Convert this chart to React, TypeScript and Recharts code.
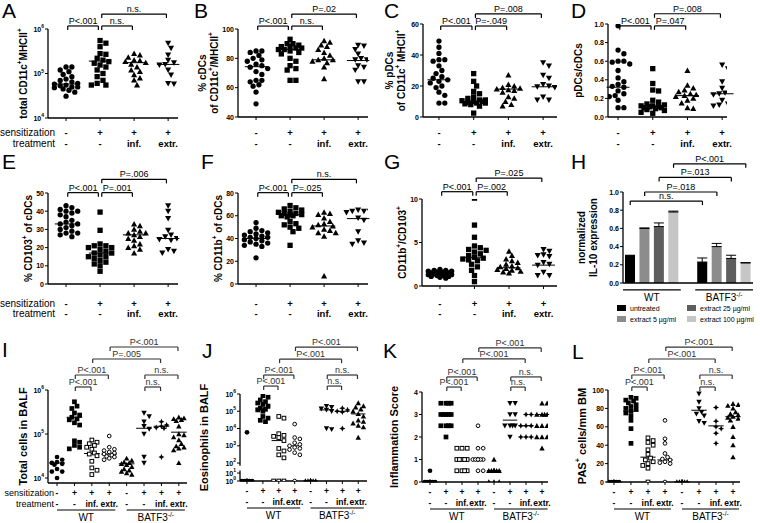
import React from "react";
import {
  Bar,
  BarChart,
  Cell,
  ErrorBar,
  ReferenceLine,
  Scatter,
  ScatterChart,
  XAxis,
  YAxis,
} from "recharts";

const FONT = "'Liberation Sans', Arial, Helvetica, sans-serif";

// x-axis labels
const sens4 = ["-", "+", "+", "+"];
const treat4 = ["-", "-", "inf.", "extr."];
const sens8 = ["-", "+", "+", "+", "-", "+", "+", "+"];
const treat8 = ["-", "-", "inf.", "extr.", "-", "-", "inf.", "extr."];
const strainNames = ["WT", "BATF3"];
const strainSup = ["", "-/-"];

// A: total CD11c+MHCII+
const aCtrl = [1.4e5, 1.4e5, 1.2e5, 1.1e5, 9.5e4, 8.5e4, 7.5e4, 7e4, 6.5e4, 6e4, 5.8e4, 5.5e4, 5.3e4, 5e4, 5e4, 4.8e4, 4.5e4, 4.2e4, 3.8e4, 3.1e4];
const aSens = [5.5e5, 4.8e5, 4e5, 2.8e5, 2.7e5, 2.2e5, 2e5, 1.85e5, 1.7e5, 1.55e5, 1.4e5, 1.2e5, 1e5, 8.5e4, 7e4, 6e4, 5.5e4, 5.5e4];
const aInf = [2.8e5, 2.6e5, 2.3e5, 2e5, 1.95e5, 1.85e5, 1.75e5, 1.6e5, 1.4e5, 1.2e5, 1.1e5, 9.3e4, 7.9e4, 7.1e4, 5.5e4];
const aExtr = [4.8e5, 3.7e5, 2.6e5, 2e5, 1.75e5, 1.6e5, 1.55e5, 1.2e5, 9.3e4, 6e4, 5.8e4];
const aMed = [5.8e4, 1.9e5, 1.75e5, 1.6e5];

// B: % cDCs
const bCtrl = [85, 85, 84, 82, 80, 79, 78, 76, 75, 74, 73, 71, 69, 65, 65, 64, 62, 61, 57, 49];
const bSens = [93, 90, 90, 89, 88, 88, 87, 87, 86, 86, 85, 84, 83, 80, 78, 75, 73, 72, 65, 65];
const bInf = [92, 91, 89, 88, 86, 84, 82, 80, 79, 79, 78, 77, 74, 66];
const bExtr = [89, 88.5, 86, 83, 80, 79, 79, 75, 74, 72, 64, 64];
const bMed = [74.3, 86, 79, 78.5];

// C: % pDCs
const cCtrl = [49, 45, 41, 37, 37, 36, 33, 30, 28, 26, 25, 24, 23, 22, 20, 19, 16, 14, 9, 9];
const cSens = [28, 23, 20, 16.5, 15, 13, 12, 11, 11, 10.5, 10, 10, 9.5, 9, 9, 8.5, 8, 7, 2.5];
const cInf = [27, 21, 20, 19, 18.5, 18, 17.5, 17, 16, 13, 12, 10, 8, 7];
const cExtr = [35, 33, 27, 25, 21, 20, 19.5, 19, 13, 11, 11];
const cMed = [24, 10, 18, 19.5];

// D: pDCs/cDCs
const dCtrl = [0.98, 0.72, 0.68, 0.6, 0.6, 0.59, 0.57, 0.5, 0.42, 0.38, 0.35, 0.33, 0.32, 0.28, 0.25, 0.23, 0.22, 0.18, 0.1, 0.1];
const dSens = [0.52, 0.36, 0.29, 0.28, 0.18, 0.16, 0.14, 0.13, 0.12, 0.12, 0.11, 0.11, 0.1, 0.1, 0.09, 0.08, 0.07, 0.05, 0.04];
const dInf = [0.5, 0.34, 0.31, 0.29, 0.27, 0.25, 0.24, 0.23, 0.22, 0.2, 0.18, 0.15, 0.1, 0.09];
const dExtr = [0.56, 0.52, 0.38, 0.31, 0.26, 0.25, 0.25, 0.24, 0.18, 0.14, 0.13, 0.12];
const dMed = [0.32, 0.12, 0.23, 0.25];

// E: % CD103+ of cDCs
const eCtrl = [43, 42, 41, 40, 40, 39, 38, 37, 35, 34, 33, 33, 32, 31, 30, 29, 28, 28, 27, 26];
const eSens = [39.5, 29.5, 22, 21, 21, 20, 20, 19, 18, 17, 17, 16, 15, 15, 14, 13, 12, 11, 10, 7];
const eInf = [33, 32, 30, 29, 28, 28, 27, 26, 25, 24, 22, 21, 20, 19, 17];
const eExtr = [43, 40, 36, 29.5, 27, 26, 25, 24.5, 24, 19, 18, 17];
const eMed = [33, 17, 27, 25];

// F: % CD11b+ of cDCs
const fCtrl = [54, 49, 47, 46, 45, 44, 43, 42, 41, 41, 40, 39, 38, 37, 36, 35, 34, 33, 23];
const fSens = [69, 67, 66, 65, 64, 63, 62, 62, 61, 61, 60, 60, 59, 55, 53, 52, 50, 49, 46, 34];
const fInf = [63, 62, 61, 58, 55, 53, 52, 51, 50, 48, 47, 45, 45, 42, 7];
const fExtr = [65, 64, 64, 64, 63, 58, 56, 46, 38, 36, 35];
const fMed = [40, 61, 51, 57.5];

// G: CD11b+/CD103+
const gCtrl = [1.9, 1.8, 1.8, 1.7, 1.7, 1.6, 1.6, 1.5, 1.5, 1.4, 1.4, 1.4, 1.3, 1.3, 1.2, 1.2, 1.1, 1.1, 1.0, 0.9];
const gSens = [10.1, 7.0, 5.6, 4.6, 4.4, 4.2, 4.1, 3.9, 3.7, 3.5, 3.3, 3.2, 3.1, 3.0, 2.9, 2.5, 2.2, 1.8, 1.2, 0.5];
const gInf = [4.0, 3.5, 3.1, 2.9, 2.7, 2.5, 2.3, 2.2, 2.1, 2.0, 1.9, 1.8, 1.7, 1.6, 1.5];
const gExtr = [4.2, 4.0, 3.6, 3.5, 3.4, 2.7, 2.5, 2.4, 1.6, 1.2, 1.2];
const gMed = [1.4, 3.3, 2.1, 2.4];

// H: normalized IL-10 expression
const hTreatments = ["untreated", "extract 5 µg/ml", "extract 25 µg/ml", "extract 100 µg/ml"];
const hColors = ["#000000", "#8c8c8c", "#5e5e5e", "#c6c6c6"];
const hWT = [0.3, 0.6, 0.62, 0.78];
const hWTerr = [0.005, 0.005, 0.04, 0.01];
const hKO = [0.23, 0.4, 0.27, 0.22];
const hKOerr = [0.045, 0.035, 0.035, 0.004];

// I: total cells in BALF
const iWtCtrl = [3e4, 2.6e4, 2.3e4, 2.2e4, 2.1e4, 2e4, 1.6e4, 1.4e4, 1.4e4, 1e4];
const iWtSens = [5.4e5, 4.3e5, 3.8e5, 3e5, 2.7e5, 2.4e5, 2.2e5, 2.1e5, 1.8e5, 1.6e5, 7e4, 6.5e4, 5.5e4, 5e4, 4.6e4];
const iWtInf = [7.3e4, 6.5e4, 6e4, 5.5e4, 5e4, 4.5e4, 3.7e4, 3.5e4, 3.2e4, 2.4e4, 1.7e4, 1.5e4, 1.2e4];
const iWtExtr = [9e4, 5e4, 4.5e4, 4.2e4, 3.9e4, 3.7e4, 3.5e4, 3.3e4, 3.1e4, 3e4, 2.8e4, 2.6e4];
const iKoCtrl = [2.8e4, 2.5e4, 2.3e4, 2.2e4, 2.1e4, 2e4, 1.8e4, 1.6e4, 1.5e4, 1.4e4, 1.3e4, 1.2e4];
const iKoSens = [3e5, 2.5e5, 1.9e5, 1.5e5, 1.3e5, 1e5, 3e4, 2.2e4];
const iKoInf = [1.9e5, 1.6e5, 1.5e5, 1.4e5, 1.35e5, 3e4];
const iKoExtr = [2.4e5, 2.3e5, 2.2e5, 2.1e5, 2e5, 1.5e5, 1e5, 9.5e4, 8.5e4, 7.3e4, 6e4, 5.3e4, 5e4, 4.7e4, 4.3e4, 2.2e4];
const iMed = [2.2e4, 2.4e5, 3.6e4, 3.5e4, 2.1e4, 1.35e5, 1.5e5, 1.1e5];

// J: eosinophils in BALF (0 = none detected, drawn at 10^0)
const jWtCtrl = [6e3, 0, 0, 0, 0, 0, 0, 0, 0, 0, 0];
const jWtSens = [8e5, 6.5e5, 4.5e5, 3.6e5, 3e5, 2.5e5, 2e5, 1.5e5, 1.3e5, 1.2e5, 1e5, 5e4, 4e4, 3e4, 2.5e4];
const jWtInf = [5e4, 4e4, 5e3, 4e3, 3.5e3, 3e3, 2e3, 700, 500, 300, 200, 0, 0, 0];
const jWtExtr = [1.8e4, 3e3, 2.5e3, 1.5e3, 1.2e3, 1e3, 800, 700, 600, 400, 300, 0];
const jKoCtrl = [0, 0, 0, 0, 0, 0, 0, 0, 0];
const jKoSens = [2e5, 1.7e5, 1.4e5, 1.2e5, 1e5, 1e4, 9e3];
const jKoInf = [1.5e5, 1.2e5, 1e5, 9e4, 1e4];
const jKoExtr = [3e5, 2e5, 1.7e5, 1.3e5, 1e5, 7e4, 5e4, 3e4, 2.5e4, 2e4, 1.5e4, 1.2e4, 3e3];
const jMed = [0, 1.5e5, 2e3, 1e3, 0, 1.2e5, 1e5, 7e4];
const jExps = [0, 1, 2, 3, 4, 5, 6];

// K: inflammation score
const kWtCtrl = [0.5, 0, 0, 0, 0, 0, 0, 0, 0, 0];
const kWtSens = [3.5, 3.5, 3.5, 3.5, 3, 3, 3, 3, 3, 2.5, 2.5, 2.5, 2.5, 2];
const kWtInf = [1.5, 1.5, 1.5, 1, 1, 1, 1, 1, 0.5, 0.5, 0.5, 0.5];
const kWtExtr = [2.5, 1.5, 1.5, 1, 1, 1, 1, 1, 1, 0.5, 0.5];
const kKoCtrl = [1, 0.5, 0.5, 0.5, 0.5, 0.5, 0.5, 0.5, 0.5, 0, 0, 0];
const kKoSens = [3.5, 3.5, 3, 3, 2.5, 2.5, 2.5, 2.5, 2];
const kKoInf = [3, 3, 2.5, 2.5, 2.5, 2, 2, 2];
const kKoExtr = [3.5, 3.5, 3, 3, 3, 3, 2.5, 2.5, 2.5, 2, 2, 2, 1.5];
const kMed = [0, 3, 1, 1, 0.5, 2.75, 2.5, 3];

// L: PAS+ cells/mm BM
const lWtCtrl = [0, 0, 0, 0, 0, 0, 0, 0, 0, 0];
const lWtSens = [92, 91, 89, 88, 86, 84, 82, 80, 79, 77, 75, 72, 67, 58, 42];
const lWtInf = [48, 45, 43, 40, 35, 30, 26, 24, 22, 20, 18, 15, 0];
const lWtExtr = [67, 47, 42, 31, 27, 25, 24, 22, 21, 20, 0];
const lKoCtrl = [0, 0, 0, 0, 0, 0, 0, 0, 0, 0];
const lKoSens = [96, 87, 80, 76, 74, 72, 66, 64];
const lKoInf = [81, 66, 60, 58, 53, 42];
const lKoExtr = [85, 84, 83, 80, 76, 74, 73, 71, 70, 69, 67, 60, 49, 40, 27];
const lMed = [0, 77, 27, 24, 0, 78, 61, 71];

type Kind = "circle" | "square" | "tri" | "tridown" | "ocircle" | "osquare" | "star";
const kinds4: Kind[] = ["circle", "square", "tri", "tridown"];
const kinds8: Kind[] = ["circle", "square", "osquare", "ocircle", "tri", "tridown", "star", "tri"];

// broken log axis of panel J
const jT = (v: number) => (v < 1 ? 0 : v <= 10 ? Math.log10(v) * 0.46 : Math.log10(v) - 0.96);

function Marker({ cx, cy, kind, s }: { cx: number; cy: number; kind: Kind; s: number }) {
  const h = s / 2;
  if (kind === "circle") return <circle cx={cx} cy={cy} r={h} fill="#000" />;
  if (kind === "ocircle") return <circle cx={cx} cy={cy} r={h - 0.5} fill="#fff" stroke="#000" strokeWidth={1} />;
  if (kind === "square") return <rect x={cx - h} y={cy - h} width={s} height={s} fill="#000" />;
  if (kind === "osquare")
    return <rect x={cx - h + 0.5} y={cy - h + 0.5} width={s - 1} height={s - 1} fill="#fff" stroke="#000" strokeWidth={1} />;
  if (kind === "tri") {
    const t = h * 1.15;
    return <polygon points={`${cx},${cy - t} ${cx + t},${cy + t * 0.8} ${cx - t},${cy + t * 0.8}`} fill="#000" />;
  }
  if (kind === "tridown") {
    const t = h * 1.15;
    return <polygon points={`${cx},${cy + t} ${cx + t},${cy - t * 0.8} ${cx - t},${cy - t * 0.8}`} fill="#000" />;
  }
  const a = h * 1.3;
  const b = h * 0.4;
  return (
    <polygon
      points={`${cx},${cy - a} ${cx + b},${cy - b} ${cx + a},${cy} ${cx + b},${cy + b} ${cx},${cy + a} ${cx - b},${cy + b} ${cx - a},${cy} ${cx - b},${cy - b}`}
      fill="#000"
    />
  );
}

// simple beeswarm: spread points sideways so they don't overlap
function swarm(values: number[], g: number, f: (v: number) => number, pxPer: number, unitPx: number, s: number, maxHalf: number) {
  const placed: { dx: number; py: number; v: number }[] = [];
  const step = s * 0.55;
  const sorted = [...values].sort((a, b) => b - a);
  for (const v of sorted) {
    const py = f(v) * pxPer;
    let best = 0;
    let bestD = -1;
    for (let k = 0; k < 30; k++) {
      const m = k === 0 ? 0 : (k % 2 ? 1 : -1) * Math.ceil(k / 2);
      const dx = m * step;
      if (Math.abs(dx) > maxHalf) continue;
      const d = placed.reduce((mn, q) => Math.min(mn, Math.hypot(q.dx - dx, q.py - py)), Infinity);
      if (d >= s * 0.95) {
        best = dx;
        break;
      }
      if (d > bestD) {
        bestD = d;
        best = dx;
      }
    }
    placed.push({ dx: best, py, v });
  }
  return placed.map((q) => ({ x: g + q.dx / unitPx, y: q.v }));
}

type Group = { values: number[]; median: number; kind: Kind };
type Bracket = { from: number; to: number; y: number; text: string };
type Panel = {
  box: number[];
  plot: number[];
  xDomain: number[];
  yScale: "linear" | "log";
  yDomain: number[];
  yTicks: number[];
  yLabel: (v: number) => string[];
  title: string[];
  titleDx: number[];
  titleFs: number;
  groups: Group[];
  brackets: Bracket[];
  sens: string[];
  treat: string[];
  labelDy: number[];
  rowNames?: boolean;
  rowGap?: number;
  rowFs?: number;
  strains?: boolean;
  yBreak?: boolean;
  sym: number;
  spread: number;
  medHalf: number;
  tickFs: number;
  pFs: number;
  ink: string;
};

const grp = (vals: number[][], meds: number[], kinds: Kind[]): Group[] =>
  vals.map((values, i) => ({ values, median: meds[i], kind: kinds[i] }));

const pow10 = (v: number) => ["10", String(Math.round(Math.log10(v)))];
const plain = (v: number) => [String(v)];
const dec1 = (v: number) => [v.toFixed(1)];
const jLabel = (v: number) => ["10", String(jExps[jExps.map((e) => jT(Math.pow(10, e))).findIndex((t) => Math.abs(t - v) < 1e-6)])];

const row1 = { sens: sens4, treat: treat4, sym: 5.3, spread: 12, medHalf: 0.33, tickFs: 9.5, pFs: 9, ink: "#000", titleFs: 10, rowFs: 10 };
const row3 = { sens: sens8, treat: treat8, sym: 4.7, spread: 6.5, medHalf: 0.45, tickFs: 8.5, pFs: 9, ink: "#333", titleFs: 11, labelDy: [10, 20.5], strains: true, rowFs: 9 };

const panels: Panel[] = [
  {
    ...row1, box: [0, 0, 190, 150], plot: [48, 29, 178, 118], xDomain: [0.47, 4.29],
    yScale: "log", yDomain: [1e4, 1e6], yTicks: [1e4, 1e5, 1e6], yLabel: pow10,
    title: ["total CD11c^{+}MHCII^{+}"], titleDx: [-25],
    groups: grp([aCtrl, aSens, aInf, aExtr], aMed, kinds4),
    brackets: [
      { from: 1, to: 2, y: 1.17e6, text: "P<.001" },
      { from: 2, to: 3, y: 1.17e6, text: "n.s." },
      { from: 2, to: 4, y: 2.17e6, text: "n.s." },
    ],
    labelDy: [14, 25], rowNames: true, rowGap: 11,
  },
  {
    ...row1, box: [190, 0, 190, 150], plot: [238, 29, 368, 117], xDomain: [0.47, 4.29],
    yScale: "linear", yDomain: [40, 100], yTicks: [40, 60, 80, 100], yLabel: plain,
    title: ["% cDCs", "of CD11c^{+}/MHCII^{+}"], titleDx: [-36, -24],
    groups: grp([bCtrl, bSens, bInf, bExtr], bMed, kinds4),
    brackets: [
      { from: 1, to: 2, y: 102, text: "P<.001" },
      { from: 2, to: 3, y: 102, text: "n.s." },
      { from: 2, to: 4, y: 110.2, text: "P=.02" },
    ],
    labelDy: [15, 26],
  },
  {
    ...row1, box: [380, 0, 190, 150], plot: [423, 24, 557, 117], xDomain: [0.54, 4.4],
    yScale: "linear", yDomain: [0, 60], yTicks: [0, 20, 40, 60], yLabel: plain,
    title: ["% pDCs", "of CD11c^{+} MHCII^{+}"], titleDx: [-34, -22],
    groups: grp([cCtrl, cSens, cInf, cExtr], cMed, kinds4),
    brackets: [
      { from: 1, to: 2, y: 58.7, text: "P<.001" },
      { from: 2, to: 3, y: 58.7, text: "P=-.049" },
      { from: 2, to: 4, y: 66.5, text: "P=.008" },
    ],
    labelDy: [15, 26],
  },
  {
    ...row1, box: [570, 0, 190, 150], plot: [608, 24, 727, 117], xDomain: [0.71, 4.14],
    yScale: "linear", yDomain: [0, 1], yTicks: [0, 0.2, 0.4, 0.6, 0.8, 1], yLabel: dec1,
    title: ["pDCs/cDCs"], titleDx: [-30],
    groups: grp([dCtrl, dSens, dInf, dExtr], dMed, kinds4),
    brackets: [
      { from: 1, to: 2, y: 0.98, text: "P<.001" },
      { from: 2, to: 3, y: 0.98, text: "P=.047" },
      { from: 2, to: 4, y: 1.11, text: "P=.008" },
    ],
    labelDy: [15, 26],
  },
  {
    ...row1, box: [0, 150, 190, 175], plot: [48, 193, 178, 284], xDomain: [0.47, 4.29],
    yScale: "linear", yDomain: [0, 50], yTicks: [0, 10, 20, 30, 40, 50], yLabel: plain,
    title: ["% CD103^{+} of cDCs"], titleDx: [-20],
    groups: grp([eCtrl, eSens, eInf, eExtr], eMed, kinds4),
    brackets: [
      { from: 1, to: 2, y: 50.2, text: "P<.001" },
      { from: 2, to: 3, y: 50.2, text: "P=.001" },
      { from: 2, to: 4, y: 57.5, text: "P=.006" },
    ],
    labelDy: [19, 29], rowNames: true, rowGap: 11,
  },
  {
    ...row1, box: [190, 150, 190, 175], plot: [238, 193, 368, 284], xDomain: [0.47, 4.29],
    yScale: "linear", yDomain: [0, 80], yTicks: [0, 20, 40, 60, 80], yLabel: plain,
    title: ["% CD11b^{+} of cDCs"], titleDx: [-20],
    groups: grp([fCtrl, fSens, fInf, fExtr], fMed, kinds4),
    brackets: [
      { from: 1, to: 2, y: 80.3, text: "P<.001" },
      { from: 2, to: 3, y: 80.3, text: "P=.025" },
      { from: 2, to: 4, y: 92, text: "n.s." },
    ],
    labelDy: [19, 29],
  },
  {
    ...row1, box: [380, 150, 190, 175], plot: [422, 199, 557, 286], xDomain: [0.48, 4.39],
    yScale: "linear", yDomain: [0, 10], yTicks: [0, 5, 10], yLabel: plain,
    title: ["CD11b^{+}/CD103^{+}"], titleDx: [-20],
    groups: grp([gCtrl, gSens, gInf, gExtr], gMed, kinds4),
    brackets: [
      { from: 1, to: 2, y: 10.84, text: "P<.001" },
      { from: 2, to: 3, y: 10.84, text: "P=.002" },
      { from: 2, to: 4, y: 12.4, text: "P=.025" },
    ],
    labelDy: [17, 27],
  },
  {
    ...row3, box: [0, 330, 190, 193], plot: [48, 390, 187, 483], xDomain: [0.48, 8.47],
    yScale: "log", yDomain: [7.7e3, 1e6], yTicks: [1e4, 1e5, 1e6], yLabel: pow10,
    title: ["Total cells in BALF"], titleDx: [-25],
    groups: grp([iWtCtrl, iWtSens, iWtInf, iWtExtr, iKoCtrl, iKoSens, iKoInf, iKoExtr], iMed, kinds8),
    brackets: [
      { from: 2, to: 3, y: 1.17e6, text: "P<.001" },
      { from: 2, to: 4, y: 2.19e6, text: "P<.001" },
      { from: 3, to: 7, y: 5.06e6, text: "P=.005" },
      { from: 4, to: 8, y: 9.5e6, text: "P<.001" },
      { from: 6, to: 7, y: 1.17e6, text: "n.s." },
      { from: 6, to: 8, y: 2.19e6, text: "n.s." },
    ],
    rowNames: true, rowGap: 3,
  },
  {
    ...row3, box: [190, 330, 190, 193], plot: [240, 394, 367, 481], xDomain: [0.56, 8.55],
    yScale: "linear", yDomain: [0, jT(1e6)], yTicks: jExps.map((e) => jT(Math.pow(10, e))), yLabel: jLabel,
    title: ["Eosinophils in  BALF"], titleDx: [-36],
    groups: grp(
      [jWtCtrl, jWtSens, jWtInf, jWtExtr, jKoCtrl, jKoSens, jKoInf, jKoExtr].map((a) => a.map(jT)),
      jMed.map(jT),
      kinds8
    ),
    brackets: [
      { from: 2, to: 3, y: 5.5, text: "P<.001" },
      { from: 2, to: 4, y: 6.14, text: "P<.001" },
      { from: 3, to: 7, y: 7.06, text: "P<.001" },
      { from: 4, to: 8, y: 7.76, text: "P<.001" },
      { from: 6, to: 7, y: 5.5, text: "n.s." },
      { from: 6, to: 8, y: 6.14, text: "n.s." },
    ],
    yBreak: true,
  },
  {
    ...row3, box: [380, 330, 190, 193], plot: [422, 392, 548, 482], xDomain: [0.5, 8.375],
    yScale: "linear", yDomain: [0, 4], yTicks: [0, 1, 2, 3, 4], yLabel: plain,
    title: ["Inflammation Score"], titleDx: [-28],
    groups: grp([kWtCtrl, kWtSens, kWtInf, kWtExtr, kKoCtrl, kKoSens, kKoInf, kKoExtr], kMed, kinds8),
    brackets: [
      { from: 2, to: 3, y: 4.22, text: "P<.001" },
      { from: 2, to: 4, y: 4.67, text: "P<.001" },
      { from: 3, to: 7, y: 5.47, text: "P<.001" },
      { from: 4, to: 8, y: 5.96, text: "P<.001" },
      { from: 6, to: 7, y: 4.22, text: "n.s." },
      { from: 6, to: 8, y: 4.67, text: "n.s." },
    ],
  },
  {
    ...row3, box: [570, 330, 190, 193], plot: [608, 390, 740, 482], xDomain: [0.65, 8.41],
    yScale: "linear", yDomain: [0, 100], yTicks: [0, 20, 40, 60, 80, 100], yLabel: plain,
    title: ["PAS^{+} cells/mm BM"], titleDx: [-26],
    groups: grp([lWtCtrl, lWtSens, lWtInf, lWtExtr, lKoCtrl, lKoSens, lKoInf, lKoExtr], lMed, kinds8),
    brackets: [
      { from: 2, to: 3, y: 103.3, text: "P<.001" },
      { from: 2, to: 4, y: 116.3, text: "P<.001" },
      { from: 3, to: 7, y: 133.7, text: "P<.001" },
      { from: 4, to: 8, y: 146.7, text: "P<.001" },
      { from: 6, to: 7, y: 103.3, text: "n.s." },
      { from: 6, to: 8, y: 116.3, text: "n.s." },
    ],
  },
];

const letters: [string, number, number][] = [
  ["A", 2, 0], ["B", 194, 0], ["C", 384, 0], ["D", 571, 0],
  ["E", 2, 151], ["F", 201, 151], ["G", 384, 151], ["H", 571, 151],
  ["I", 2, 339], ["J", 202, 340], ["K", 383, 340], ["L", 572, 341],
];

function Rich({ s, fs }: { s: string; fs: number }) {
  const parts = s.split(/\^\{([^}]*)\}/);
  return (
    <>
      {parts.map((t, i) =>
        i % 2 ? (
          <tspan key={i} fontSize={fs * 0.65} dy={-fs * 0.4}>{t}</tspan>
        ) : (
          <tspan key={i} fontSize={fs} dy={i > 0 ? fs * 0.4 : 0}>{t}</tspan>
        )
      )}
    </>
  );
}

function YTitle({ p }: { p: Panel }) {
  const x0 = p.plot[0] - p.box[0];
  const cy = (p.plot[1] + p.plot[3]) / 2 - p.box[1];
  return (
    <g>
      {p.title.map((t, i) => (
        <text
          key={i}
          transform={`translate(${x0 + p.titleDx[i]},${cy}) rotate(-90)`}
          textAnchor="middle"
          dominantBaseline="central"
          fontWeight="bold"
          fontFamily={FONT}
          fill="#000"
        >
          <Rich s={t} fs={p.titleFs} />
        </text>
      ))}
    </g>
  );
}

function YTick(props: any) {
  const { x, y, payload, p } = props;
  const [base, sup] = p.yLabel(payload.value);
  return (
    <text x={x} y={y} textAnchor="end" dominantBaseline="central" fontSize={7} fontWeight="bold" fontFamily={FONT} fill="#000">
      {base}
      {sup !== undefined && (
        <tspan fontSize={5} dy={-3}>{sup}</tspan>
      )}
    </text>
  );
}

function CatTick(props: any) {
  const { x, y, payload, p } = props;
  const i = Math.round(payload.value) - 1;
  const ay = y - 3;
  const t = { textAnchor: "middle" as const, dominantBaseline: "central" as const, fontFamily: FONT, fill: "#000" };
  return (
    <g>
      <text x={x} y={ay + p.labelDy[0]} {...t} fontSize={p.tickFs} fontWeight="bold">{p.sens[i]}</text>
      <text x={x} y={ay + p.labelDy[1]} {...t} fontSize={p.tickFs} fontWeight="bold">{p.treat[i]}</text>
      {i === 0 && p.rowNames && (
        <>
          <text x={x - p.rowGap} y={ay + p.labelDy[0]} {...t} textAnchor="end" fontSize={p.rowFs}>sensitization</text>
          <text x={x - p.rowGap} y={ay + p.labelDy[1]} {...t} textAnchor="end" fontSize={p.rowFs}>treatment</text>
        </>
      )}
    </g>
  );
}

const strainLabel = (name: string, sup: string) => (lp: any) => {
  const vb = lp.viewBox || { x: 0, y: 0, width: 0, height: 0 };
  return (
    <text x={vb.x + vb.width / 2} y={vb.y + vb.height + 11} textAnchor="middle" fontSize={10} fontFamily={FONT} fill="#000">
      {name}
      {sup && (
        <tspan fontSize={6.5} dy={-4}>{sup}</tspan>
      )}
    </text>
  );
};

function DotPanel({ p }: { p: Panel }) {
  const [bl, bt, bw, bh] = p.box;
  const [ax, pt, pr, pb] = p.plot;
  const yW = 22;
  const xH = 25;
  const margin = { left: ax - bl - yW, top: pt - bt, right: bl + bw - pr, bottom: bt + bh - pb - xH };
  const isLog = p.yScale === "log";
  const f = isLog ? Math.log10 : (v: number) => v;
  const pxPer = (pb - pt) / (f(p.yDomain[1]) - f(p.yDomain[0]));
  const unitPx = (pr - ax) / (p.xDomain[1] - p.xDomain[0]);
  const shift = (v: number, dpx: number) => (isLog ? v * Math.pow(10, -dpx / pxPer) : v - dpx / pxPer);
  const ticks = p.groups.map((_, i) => i + 1);
  const refs: React.ReactNode[] = [];

  p.groups.forEach((g, i) => {
    refs.push(
      <ReferenceLine
        key={`m${i}`}
        segment={[{ x: i + 1 - p.medHalf, y: g.median }, { x: i + 1 + p.medHalf, y: g.median }]}
        stroke="#000"
        strokeWidth={1}
        ifOverflow="visible"
      />
    );
  });
  p.brackets.forEach((b, i) => {
    const x1 = b.from + 0.05;
    const x2 = b.to - 0.05;
    const lo = shift(b.y, 4);
    const st = { stroke: p.ink, strokeWidth: 1.2, ifOverflow: "visible" as const };
    refs.push(
      <ReferenceLine
        key={`bh${i}`}
        segment={[{ x: x1, y: b.y }, { x: x2, y: b.y }]}
        {...st}
        label={{ value: b.text, position: "top", offset: 2, fontSize: p.pFs, fill: p.ink, fontFamily: FONT }}
      />
    );
    refs.push(<ReferenceLine key={`bl${i}`} segment={[{ x: x1, y: b.y }, { x: x1, y: lo }]} {...st} />);
    refs.push(<ReferenceLine key={`br${i}`} segment={[{ x: x2, y: b.y }, { x: x2, y: lo }]} {...st} />);
  });
  if (p.strains) {
    const uy = shift(p.yDomain[0], 27);
    [[1, 4.35], [5, 8.35]].forEach(([a, b], i) => {
      refs.push(
        <ReferenceLine
          key={`s${i}`}
          segment={[{ x: a, y: uy }, { x: b, y: uy }]}
          stroke="#000"
          strokeWidth={1.2}
          ifOverflow="visible"
          label={{ position: "bottom", content: strainLabel(strainNames[i], strainSup[i]) }}
        />
      );
    });
  }
  if (p.yBreak) {
    const x0 = p.xDomain[0];
    refs.push(
      <ReferenceLine key="ax1" segment={[{ x: x0, y: 0 }, { x: x0, y: jT(10) + 0.15 }]} stroke="#000" strokeWidth={1.3} ifOverflow="visible" />
    );
    refs.push(
      <ReferenceLine key="ax2" segment={[{ x: x0, y: jT(100) - 0.15 }, { x: x0, y: p.yDomain[1] }]} stroke="#000" strokeWidth={1.3} ifOverflow="visible" />
    );
  }

  return (
    <div style={{ position: "absolute", left: bl, top: bt }}>
      <ScatterChart width={bw} height={bh} margin={margin}>
        <XAxis
          type="number"
          dataKey="x"
          domain={p.xDomain}
          ticks={ticks}
          allowDataOverflow
          interval={0}
          height={xH}
          tickSize={3}
          tickMargin={0}
          tickLine={{ stroke: "#000" }}
          axisLine={{ stroke: "#000", strokeWidth: 1.3 }}
          tick={(tp: any) => <CatTick {...tp} p={p} />}
        />
        <YAxis
          type="number"
          dataKey="y"
          scale={isLog ? "log" : "linear"}
          domain={p.yDomain}
          ticks={p.yTicks}
          allowDataOverflow
          interval={0}
          width={yW}
          tickSize={3}
          tickMargin={1}
          tickLine={{ stroke: "#000" }}
          axisLine={p.yBreak ? false : { stroke: "#000", strokeWidth: 1.3 }}
          tick={(tp: any) => <YTick {...tp} p={p} />}
          label={() => <YTitle p={p} />}
        />
        {p.groups.map((g, i) => (
          <Scatter
            key={i}
            data={swarm(g.values, i + 1, f, pxPer, unitPx, p.sym, p.spread)}
            isAnimationActive={false}
            shape={(sp: any) => <Marker cx={sp.cx} cy={sp.cy} kind={g.kind} s={p.sym} />}
          />
        ))}
        {refs}
      </ScatterChart>
    </div>
  );
}

const hBrackets = [
  { from: "wt0", to: "ko0", y: 0.9, text: "n.s." },
  { from: "wt1", to: "ko1", y: 1.0, text: "P=.018" },
  { from: "wt2", to: "ko2", y: 1.16, text: "P=.013" },
  { from: "wt3", to: "ko3", y: 1.31, text: "P<.001" },
];

function HPanel() {
  const rows = [
    ...hTreatments.map((_, i) => ({ slot: `wt${i}`, v: hWT[i], err: [0, hWTerr[i]], fill: hColors[i] })),
    { slot: "gap", v: 0, err: undefined as any, fill: "none" },
    ...hTreatments.map((_, i) => ({ slot: `ko${i}`, v: hKO[i], err: [0, hKOerr[i]], fill: hColors[i] })),
  ];
  const hp: any = {
    box: [570, 150, 190, 180],
    plot: [623, 192, 753, 283],
    title: ["normalized", "IL-10 expression"],
    titleDx: [-42, -30],
    titleFs: 10,
    yLabel: dec1,
  };
  const st = { stroke: "#000", strokeWidth: 1.2, ifOverflow: "visible" as const };
  const drop = 4 / 91;
  return (
    <div style={{ position: "absolute", left: 570, top: 150 }}>
      <BarChart width={190} height={180} data={rows} margin={{ top: 42, right: 7, left: 35, bottom: 37 }} barSize={10}>
        <XAxis dataKey="slot" type="category" tick={false} tickLine={false} height={10} axisLine={{ stroke: "#000", strokeWidth: 1.3 }} />
        <YAxis
          type="number"
          domain={[0, 1]}
          ticks={[0, 0.2, 0.4, 0.6, 0.8, 1]}
          allowDataOverflow
          interval={0}
          width={18}
          tickSize={3}
          tickMargin={1}
          tickLine={{ stroke: "#000" }}
          axisLine={{ stroke: "#000", strokeWidth: 1.3 }}
          tick={(tp: any) => <YTick {...tp} p={hp} />}
          label={() => <YTitle p={hp} />}
        />
        <Bar dataKey="v" isAnimationActive={false}>
          {rows.map((r, i) => (
            <Cell key={i} fill={r.fill} />
          ))}
          <ErrorBar dataKey="err" width={5} stroke="#000" strokeWidth={1} direction="y" />
        </Bar>
        {hBrackets.flatMap((b, i) => [
          <ReferenceLine
            key={`h${i}`}
            segment={[{ x: b.from, y: b.y }, { x: b.to, y: b.y }]}
            {...st}
            label={{ value: b.text, position: "top", offset: 2, fontSize: 9, fill: "#000", fontFamily: FONT }}
          />,
          <ReferenceLine key={`l${i}`} segment={[{ x: b.from, y: b.y }, { x: b.from, y: b.y - drop }]} {...st} />,
          <ReferenceLine key={`r${i}`} segment={[{ x: b.to, y: b.y }, { x: b.to, y: b.y - drop }]} {...st} />,
        ])}
        <ReferenceLine
          segment={[{ x: "wt0", y: -0.075 }, { x: "gap", y: -0.075 }]}
          position="start"
          {...st}
          label={{ position: "bottom", content: strainLabel(strainNames[0], strainSup[0]) }}
        />
        <ReferenceLine
          segment={[{ x: "gap", y: -0.075 }, { x: "ko3", y: -0.075 }]}
          position="end"
          {...st}
          label={{ position: "bottom", content: strainLabel(strainNames[1], strainSup[1]) }}
        />
      </BarChart>
    </div>
  );
}

function HLegend() {
  const order = [0, 2, 1, 3];
  return (
    <div
      style={{
        position: "absolute",
        left: 617,
        top: 304,
        display: "grid",
        gridTemplateColumns: "70px 74px",
        rowGap: 3,
        fontSize: 7,
        fontFamily: FONT,
        color: "#000",
      }}
    >
      {order.map((i) => (
        <div key={i} style={{ display: "flex", alignItems: "center", height: 8, whiteSpace: "nowrap" }}>
          <span style={{ display: "inline-block", width: 9, height: 6, background: hColors[i], marginRight: 4 }} />
          {hTreatments[i]}
        </div>
      ))}
    </div>
  );
}

export default function App() {
  return (
    <div
      style={{
        position: "absolute",
        left: 0,
        top: 0,
        width: 760,
        height: 523,
        background: "#fff",
        fontFamily: FONT,
        overflow: "hidden",
      }}
    >
      {panels.map((p, i) => (
        <DotPanel key={i} p={p} />
      ))}
      <HPanel />
      <HLegend />
      {letters.map(([t, x, y]) => (
        <div key={t} style={{ position: "absolute", left: x, top: y, fontSize: 21, lineHeight: 1, fontFamily: FONT }}>
          {t}
        </div>
      ))}
    </div>
  );
}
